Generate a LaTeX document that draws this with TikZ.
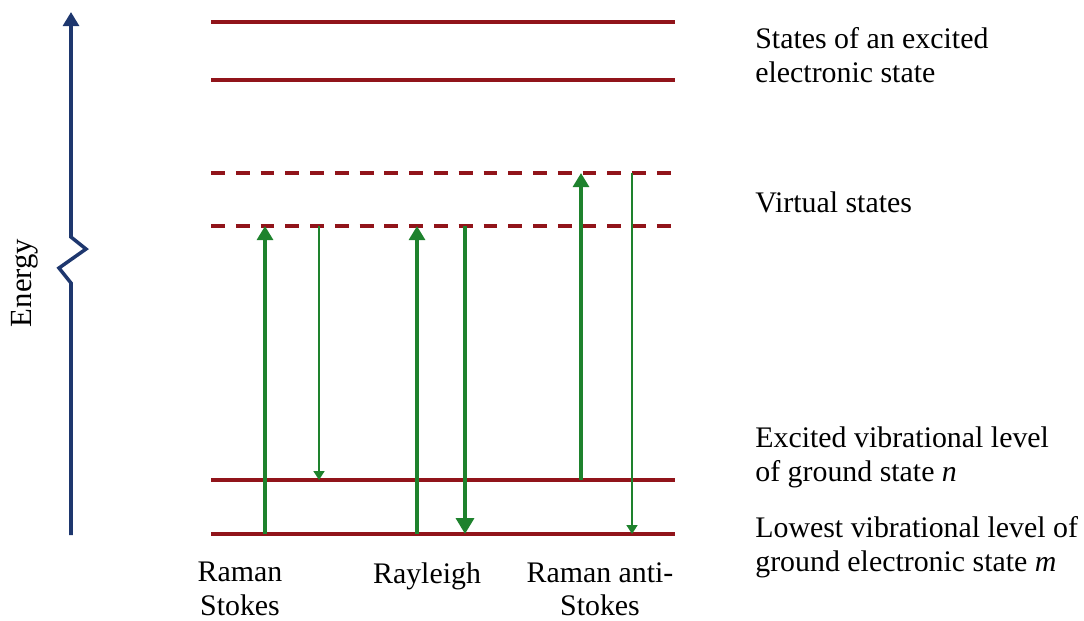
\documentclass[tikz,border=0pt]{standalone}
\usepackage{fontspec}
\setmainfont{Liberation Serif}
\usetikzlibrary{arrows.meta}
\definecolor{lvl}{RGB}{145,20,26}
\definecolor{grn}{RGB}{30,130,45}
\definecolor{eblue}{RGB}{30,55,110}
\begin{document}
\begin{tikzpicture}[x=0.02cm,y=-0.02cm,
  level/.style={draw=lvl,line width=1.8pt},
  levelthick/.style={draw=lvl,line width=2.6pt},
  virt/.style={draw=lvl,line width=2pt,dash pattern=on 7.9pt off 6.2pt},
  up/.style={draw=grn,line width=2.3pt,-{Triangle[width=9pt,length=8pt]}},
  downthin/.style={draw=grn,line width=1.3pt,-{Triangle[width=6pt,length=5pt]}},
  downthick/.style={draw=grn,line width=2.3pt,-{Triangle[width=10pt,length=9pt]}},
  lab/.style={font=\fontsize{17}{19.5}\selectfont,align=left,anchor=west,inner sep=0pt},
  blab/.style={font=\fontsize{17}{19}\selectfont,align=center,anchor=north,inner sep=0pt}]
\useasboundingbox (0,0) rectangle (1084,620);
% levels
\coordinate (L1a) at (211,22);  \coordinate (L1b) at (675,22);
\coordinate (L2a) at (211,80);  \coordinate (L2b) at (675,80);
\coordinate (V1a) at (211,173); \coordinate (V1b) at (675,173);
\coordinate (V2a) at (211,226); \coordinate (V2b) at (675,226);
\coordinate (G1a) at (211,480); \coordinate (G1b) at (675,480);
\coordinate (G0a) at (211,534); \coordinate (G0b) at (675,534);
\draw[level] (L1a) -- (L1b);
\draw[levelthick] (L2a) -- (L2b);
\draw[virt] (V1a) -- (V1b);
\draw[virt] (V2a) -- (V2b);
\draw[level] (G1a) -- (G1b);
\draw[levelthick] (G0a) -- (G0b);
% energy axis
\coordinate (E0) at (71,535);
\coordinate (Ez1) at (71,283);
\coordinate (Ez2) at (59,268);
\coordinate (Ez3) at (86,249);
\coordinate (Ez4) at (71,237);
\coordinate (E1) at (71,12);
\draw[eblue,line width=2pt,line join=miter,-{Triangle[width=9pt,length=8pt]}]
  (E0) -- (Ez1) -- (Ez2) -- (Ez3) -- (Ez4) -- (E1);
\node[rotate=90,font=\fontsize{17.5}{20}\selectfont,inner sep=0pt] (energy) at (25,283) {Energy};
% transitions
\coordinate (a0) at (265,534); \coordinate (a1) at (265,226);
\coordinate (b0) at (319,226); \coordinate (b1) at (319,480);
\coordinate (c0) at (417,534); \coordinate (c1) at (417,226);
\coordinate (d0) at (465,226); \coordinate (d1) at (465,534);
\coordinate (e0) at (581,480); \coordinate (e1) at (581,173);
\coordinate (f0) at (632,173); \coordinate (f1) at (632,534);
\draw[up] (a0) -- (a1);
\draw[downthin] (b0) -- (b1);
\draw[up] (c0) -- (c1);
\draw[downthick] (d0) -- (d1);
\draw[up] (e0) -- (e1);
\draw[downthin] (f0) -- (f1);
% right labels
\node[lab] (t1) at (755,55) {States of an excited\\electronic state};
\node[lab] (t2) at (755,202) {Virtual states};
\node[lab] (t3) at (755,457) {Excited vibrational level\\of ground state \textit{n}};
\node[lab] (t4) at (755,547) {Lowest vibrational level of\\ground electronic state \textit{m}};
% bottom labels
\node[blab] (b1l) at (240,562) {Raman\\Stokes};
\node[blab] (b2l) at (427,562) {Rayleigh};
\node[blab] (b3l) at (600,562) {Raman anti-\\Stokes};
\end{tikzpicture}
\end{document}
